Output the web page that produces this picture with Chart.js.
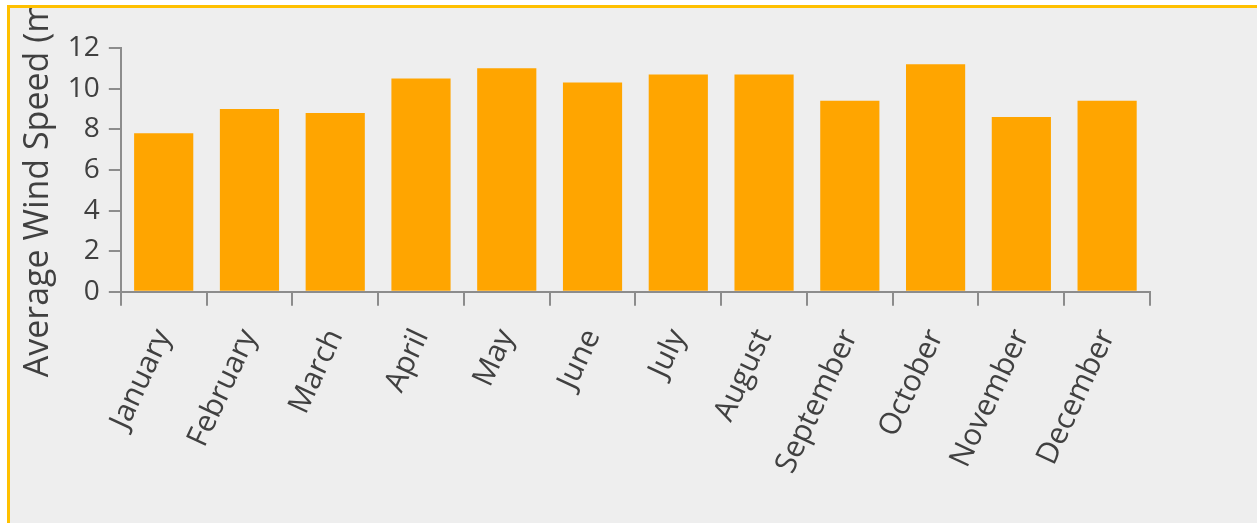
<!DOCTYPE html>
<html>
<head>
<meta charset="utf-8">
<script src="https://cdn.jsdelivr.net/npm/chart.js@4/dist/chart.umd.min.js"></script>
<style>
  html, body { margin: 0; padding: 0; background: #ffffff; overflow: hidden; }
  #frame {
    position: absolute; left: 7px; top: 5px;
    width: 1260px; height: 530px;
    border-top: 3px solid #ffc000; border-left: 3px solid #ffc000;
    background: #eeeeee; overflow: hidden;
  }
  #wrap { position: relative; width: 1247px; height: 515px; }
</style>
</head>
<body>
<div id="frame"><div id="wrap"><canvas id="chart-wind"></canvas></div></div>
<script>
// ── Monthly average wind speed ────────────────────────────────────────────────
const MONTHS = ['January', 'February', 'March', 'April', 'May', 'June',
                'July', 'August', 'September', 'October', 'November', 'December'];
const WIND_SPEED = [7.8, 9.0, 8.8, 10.5, 11.0, 10.3, 10.7, 10.7, 9.4, 11.2, 8.6, 9.4];
const Y_TITLE = 'Average Wind Speed (m/s)';

const TEXT = '#404040';
const AXIS = '#8c8c8c';
const BAR  = '#ffa500';
const FAMILY = "'Open Sans', 'Noto Sans', sans-serif";

new Chart(document.getElementById('chart-wind').getContext('2d'), {
  type: 'bar',
  data: {
    labels: MONTHS,
    datasets: [{
      label: 'Wind speed',
      data: WIND_SPEED,
      backgroundColor: BAR,
      borderWidth: 0,
      categoryPercentage: 1.0,
      barPercentage: 0.69,
    }],
  },
  options: {
    responsive: true, maintainAspectRatio: false, animation: false,
    layout: { padding: { top: 40, right: 107, bottom: 26, left: 4 } },
    plugins: { legend: { display: false }, tooltip: { enabled: false } },
    scales: {
      x: {
        grid: { offset: true, drawOnChartArea: false, tickLength: 14, color: AXIS, lineWidth: 2 },
        border: { color: AXIS, width: 2 },
        ticks: { color: TEXT, font: { family: FAMILY, size: 30 }, maxRotation: 65, minRotation: 65, padding: 18 },
      },
      y: {
        min: 0, max: 12,
        grid: { drawOnChartArea: false, tickLength: 12, color: AXIS, lineWidth: 2 },
        border: { color: AXIS, width: 2 },
        ticks: { stepSize: 2, color: TEXT, font: { family: FAMILY, size: 28 }, padding: 9 },
        title: {
          display: true, text: Y_TITLE, color: TEXT,
          font: { family: FAMILY, size: 34 },
          padding: { top: 4, bottom: 0 },
        },
      },
    },
  },
});
</script>
</body>
</html>
